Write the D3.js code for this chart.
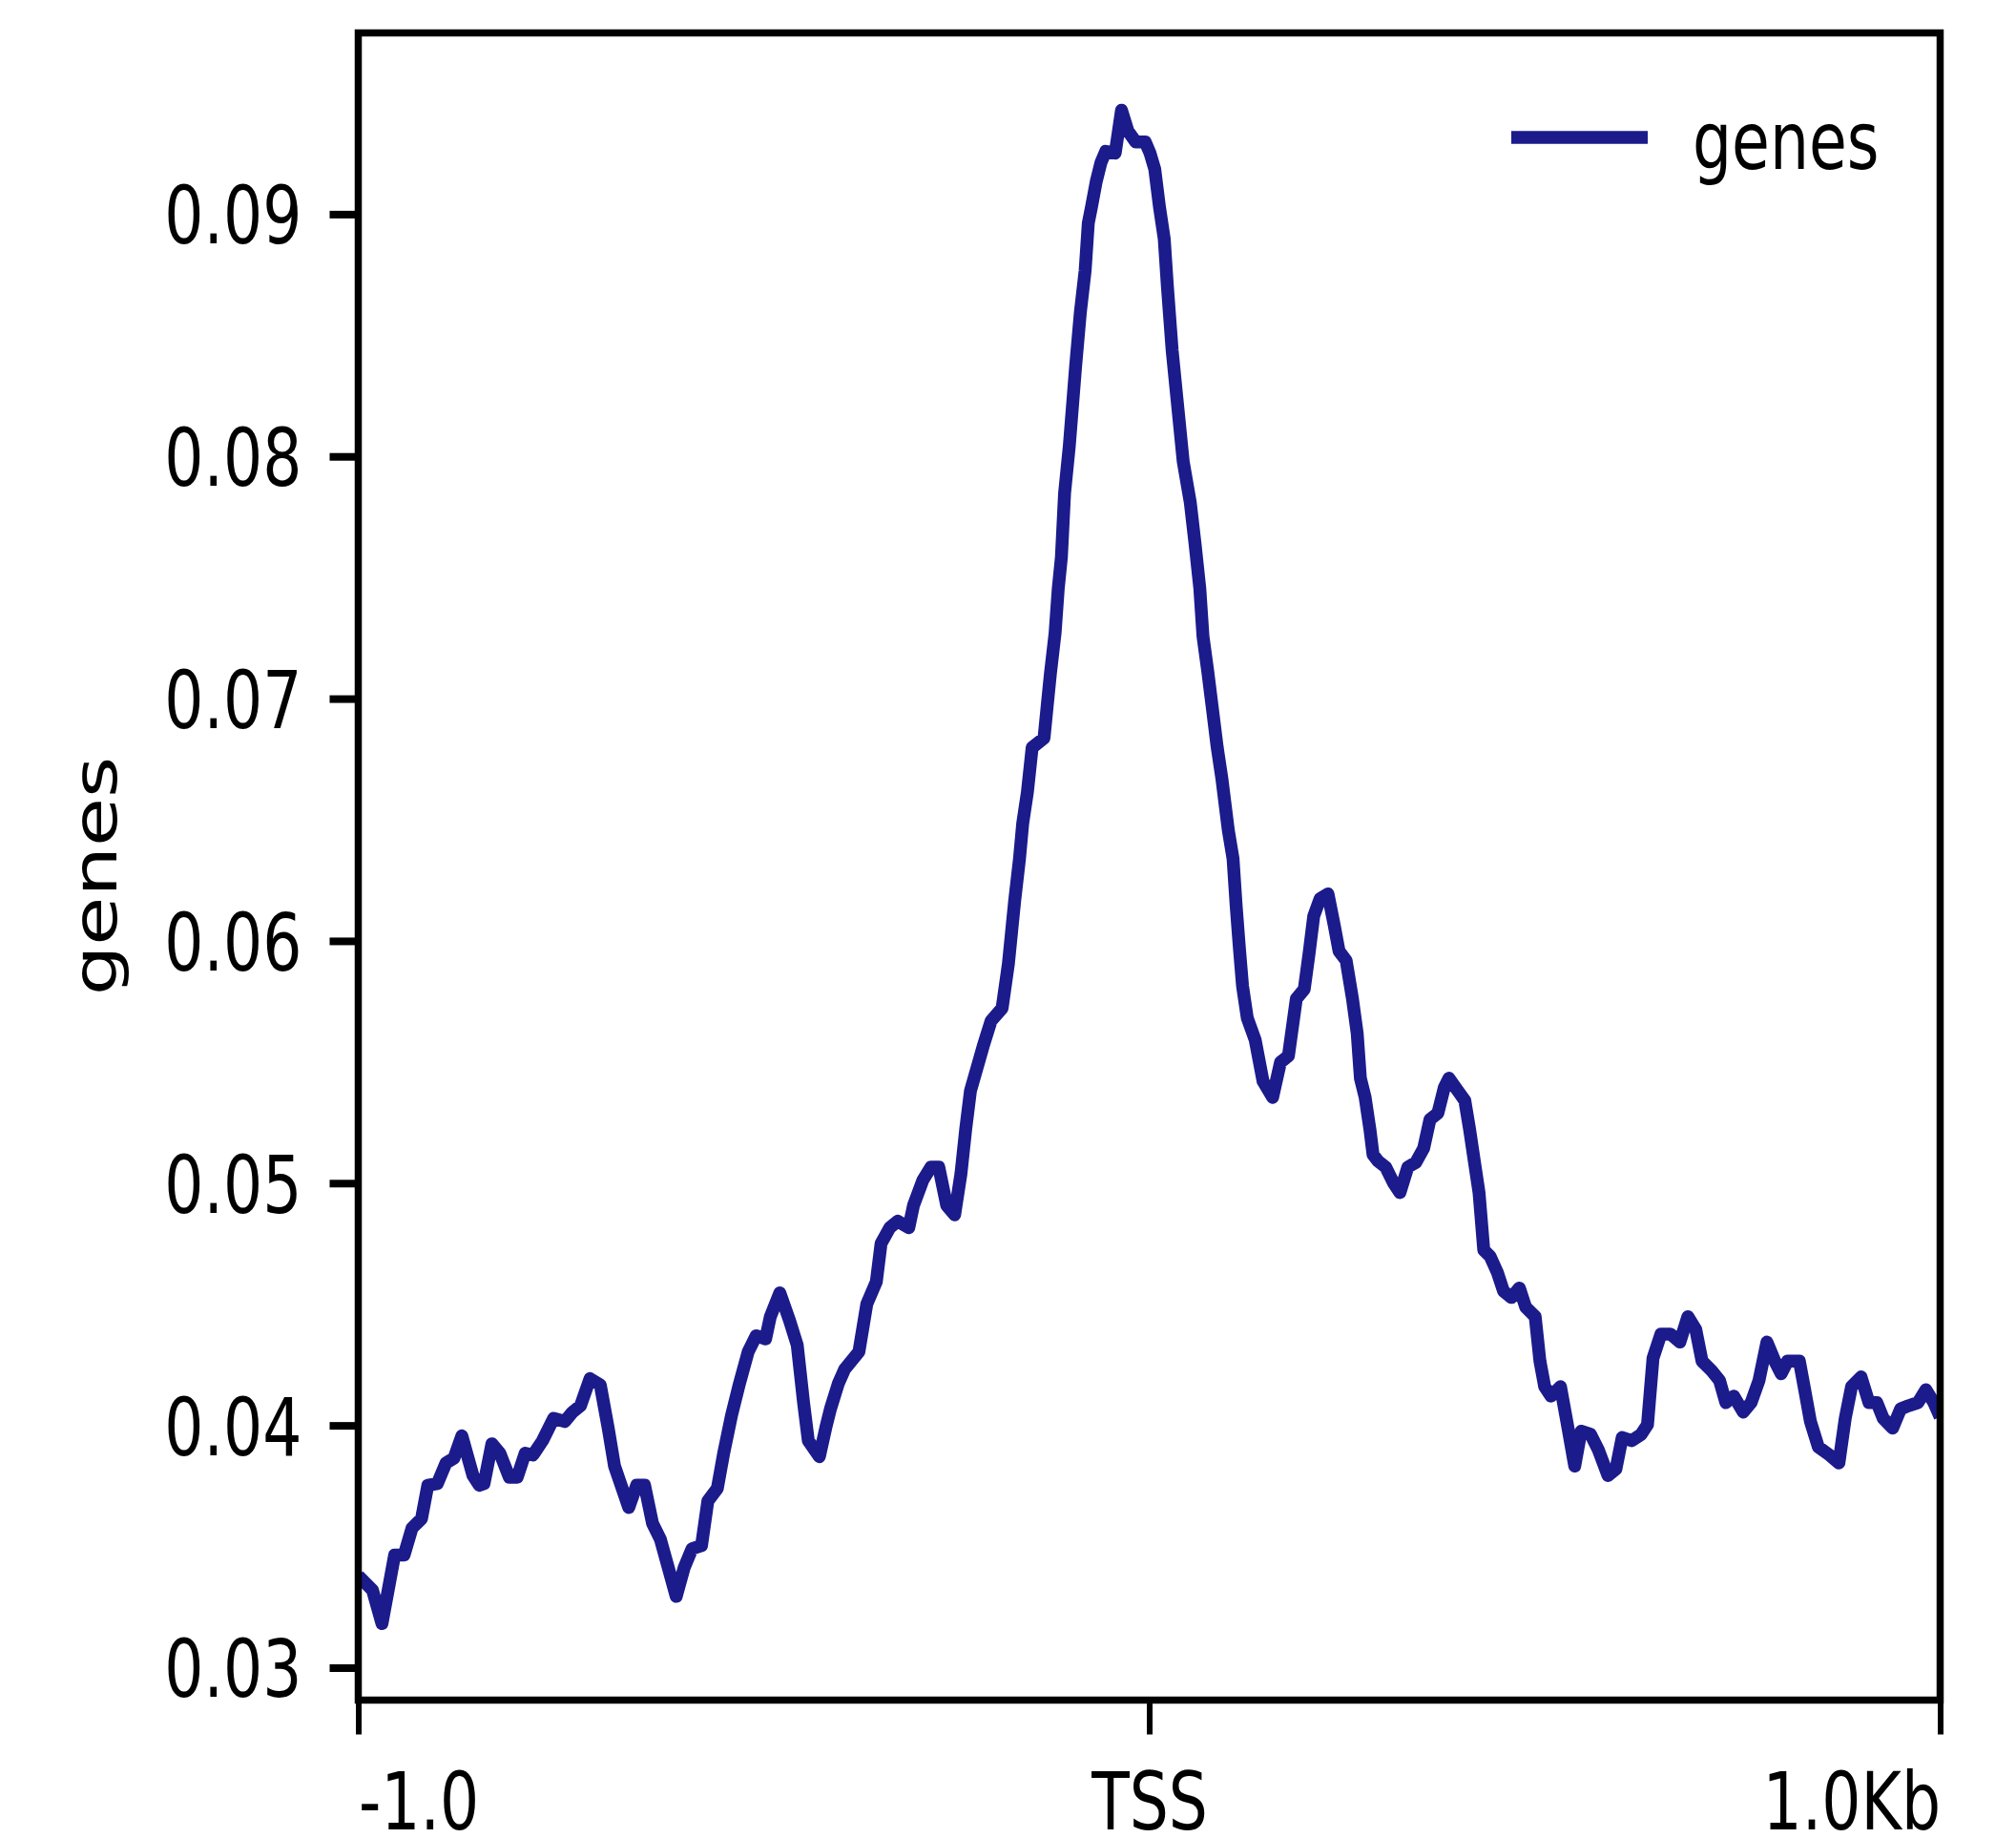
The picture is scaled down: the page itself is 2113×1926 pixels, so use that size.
<!DOCTYPE html>
<html>
<head>
<meta charset="utf-8">
<script src="https://cdn.jsdelivr.net/npm/d3@7"></script>
<style>
  body { margin: 0; background: #fff; }
  svg { display: block; }
  text { font-family: "DejaVu Sans", sans-serif; fill: #000; }
</style>
</head>
<body>
<script>
// Profile around the TSS: distance in bp and mean signal at each vertex
const binOffsets = [
  -1000, -982, -970, -954, -942, -932, -920, -912, -900, -889, -879, -869, -855, -847, -841, -831,
  -821, -809, -799, -789, -779, -767, -753, -739, -729, -719, -707, -694, -684, -676, -658, -648,
  -638, -628, -618, -608, -598, -588, -578, -566, -558, -546, -538, -528, -518, -507, -497, -485,
  -479, -467, -455, -445, -437, -431, -417, -409, -403, -393, -385, -367, -357, -345, -339, -328,
  -318, -304, -298, -286, -276, -266, -256, -246, -238, -232, -226, -218, -210, -200, -186, -178,
  -174, -170, -164, -160, -154, -148, -133, -129, -125, -119, -115, -111, -107, -101, -93, -87,
  -81, -77, -73, -67, -61, -55, -43, -35, -27, -17, -5, 1, 7, 13, 19, 23,
  29, 35, 43, 52, 58, 64, 68, 74, 80, 86, 92, 100, 106, 110, 114, 118,
  124, 134, 144, 156, 166, 176, 186, 196, 202, 208, 216, 226, 234, 240, 249, 257,
  263, 267, 273, 279, 283, 289, 299, 309, 317, 327, 337, 347, 355, 365, 373, 379,
  389, 399, 405, 411, 417, 423, 431, 440, 448, 458, 468, 476, 488, 494, 500, 508,
  520, 528, 538, 546, 558, 568, 580, 590, 598, 610, 622, 630, 637, 647, 659, 671,
  681, 691, 699, 711, 721, 729, 739, 751, 761, 771, 781, 791, 799, 807, 822, 828,
  836, 846, 860, 872, 880, 888, 900, 910, 920, 928, 940, 950, 960, 972, 982, 992,
  1000
];
const signal = [
  0.03379, 0.03320, 0.03182, 0.03465, 0.03465, 0.03576, 0.03615, 0.03753, 0.03760, 0.03845, 0.03865, 0.03957, 0.03793, 0.03753, 0.03760, 0.03924,
  0.03885, 0.03786, 0.03786, 0.03885, 0.03878, 0.03937, 0.04029, 0.04016, 0.04055, 0.04081, 0.04193, 0.04167, 0.03989, 0.03832, 0.03661, 0.03753,
  0.03753, 0.03596, 0.03530, 0.03412, 0.03294, 0.03412, 0.03491, 0.03504, 0.03688, 0.03740, 0.03885, 0.04042, 0.04173, 0.04304, 0.04370, 0.04357,
  0.04449, 0.04547, 0.04436, 0.04331, 0.04094, 0.03937, 0.03871, 0.03989, 0.04068, 0.04173, 0.04232, 0.04304, 0.04501, 0.04593, 0.04751, 0.04816,
  0.04843, 0.04816, 0.04908, 0.05013, 0.05066, 0.05066, 0.04908, 0.04869, 0.05039, 0.05223, 0.05381, 0.05472, 0.05564, 0.05669, 0.05722, 0.05906,
  0.06037, 0.06168, 0.06339, 0.06483, 0.06614, 0.06798, 0.06837, 0.06969, 0.07100, 0.07270, 0.07454, 0.07585, 0.07848, 0.08044, 0.08373, 0.08596,
  0.08767, 0.08963, 0.09029, 0.09134, 0.09213, 0.09259, 0.09252, 0.09429, 0.09344, 0.09298, 0.09298, 0.09252, 0.09186, 0.09029, 0.08898, 0.08701,
  0.08438, 0.08241, 0.07979, 0.07808, 0.07638, 0.07454, 0.07257, 0.07113, 0.06956, 0.06798, 0.06667, 0.06457, 0.06339, 0.06142, 0.05971, 0.05814,
  0.05682, 0.05591, 0.05420, 0.05354, 0.05499, 0.05525, 0.05761, 0.05800, 0.05945, 0.06102, 0.06174, 0.06194, 0.06063, 0.05958, 0.05919, 0.05761,
  0.05617, 0.05433, 0.05354, 0.05223, 0.05118, 0.05092, 0.05066, 0.05000, 0.04961, 0.05066, 0.05085, 0.05144, 0.05263, 0.05289, 0.05394, 0.05433,
  0.05387, 0.05341, 0.05223, 0.05092, 0.04961, 0.04724, 0.04698, 0.04633, 0.04554, 0.04528, 0.04567, 0.04488, 0.04449, 0.04265, 0.04160, 0.04121,
  0.04160, 0.04016, 0.03832, 0.03976, 0.03963, 0.03898, 0.03793, 0.03819, 0.03950, 0.03937, 0.03963, 0.04003, 0.04278, 0.04377, 0.04377, 0.04344,
  0.04449, 0.04396, 0.04265, 0.04226, 0.04186, 0.04094, 0.04121, 0.04055, 0.04094, 0.04186, 0.04344, 0.04265, 0.04213, 0.04265, 0.04265, 0.04160,
  0.04016, 0.03911, 0.03878, 0.03845, 0.04029, 0.04160, 0.04200, 0.04094, 0.04094, 0.04029, 0.03989, 0.04068, 0.04081, 0.04094, 0.04147, 0.04094,
  0.04035
];

const yTickValues = [0.03, 0.04, 0.05, 0.06, 0.07, 0.08, 0.09];
const xTickValues = [-1000, 0, 1000];
const xTickLabels = ["-1.0", "TSS", "1.0Kb"];
const seriesName = "genes";
const yTitle = "genes";

const W = 2113, H = 1926;
const plot = { left: 375.5, right: 2033.5, top: 34.5, bottom: 1781.5 };
const lineColor = "#1b1b8c";
const fontSize = 83;
const squeeze = 0.78;   // narrow glyph width used throughout the figure

const svg = d3.select("body").append("svg")
  .attr("width", W).attr("height", H)
  .attr("viewBox", `0 0 ${W} ${H}`);

svg.append("rect").attr("width", W).attr("height", H).attr("fill", "#fff");

const x = d3.scaleLinear().domain([-1000, 1000]).range([plot.left, plot.right]);
const y = d3.scaleLinear().domain([0.02866, 0.09748]).range([plot.bottom, plot.top]);

// clip the profile to the axes box
svg.append("defs").append("clipPath").attr("id", "plot-clip")
  .append("rect")
  .attr("x", plot.left).attr("y", plot.top)
  .attr("width", plot.right - plot.left).attr("height", plot.bottom - plot.top);

const points = binOffsets.map((d, i) => [d, signal[i]]);
const line = d3.line().x(d => x(d[0])).y(d => y(d[1]));

svg.append("path")
  .datum(points)
  .attr("clip-path", "url(#plot-clip)")
  .attr("d", line)
  .attr("fill", "none")
  .attr("stroke", lineColor)
  .attr("stroke-width", 13.5)
  .attr("stroke-linejoin", "round")
  .attr("stroke-linecap", "butt");

// y axis
const gy = svg.append("g")
  .attr("transform", `translate(${plot.left},0)`)
  .call(d3.axisLeft(y).tickValues(yTickValues).tickFormat(d3.format(".2f")).tickSize(30).tickPadding(0))
  .attr("font-family", null).attr("font-size", null);
gy.select(".domain").remove();
gy.selectAll(".tick line").attr("stroke", "#000").attr("stroke-width", 8);
gy.selectAll(".tick text")
  .attr("x", null).attr("dy", null)
  .attr("text-anchor", "end")
  .attr("font-size", fontSize)
  .attr("transform", `translate(-59,30.5) scale(${squeeze},1)`);

// x axis
const gx = svg.append("g")
  .attr("transform", `translate(0,${plot.bottom})`)
  .call(d3.axisBottom(x).tickValues(xTickValues)
    .tickFormat((d, i) => xTickLabels[i]).tickSize(36).tickPadding(0))
  .attr("font-family", null).attr("font-size", null);
gx.select(".domain").remove();
gx.selectAll(".tick line").attr("stroke", "#000").attr("stroke-width", 6);
gx.selectAll(".tick text")
  .attr("y", null).attr("dy", null)
  .attr("font-size", fontSize)
  .attr("text-anchor", (d, i) => i === 0 ? "start" : (i === xTickValues.length - 1 ? "end" : "middle"))
  .attr("transform", `translate(0,135) scale(${squeeze},1)`);

// axes frame
svg.append("rect")
  .attr("x", plot.left).attr("y", plot.top)
  .attr("width", plot.right - plot.left).attr("height", plot.bottom - plot.top)
  .attr("fill", "none").attr("stroke", "#000").attr("stroke-width", 7.5);

// y title
svg.append("text")
  .attr("transform", `translate(122,918) scale(${squeeze},1) rotate(-90)`)
  .attr("text-anchor", "middle")
  .attr("font-size", fontSize)
  .text(yTitle);

// legend
const legend = svg.append("g");
legend.append("line")
  .attr("x1", 1584).attr("x2", 1727).attr("y1", 144).attr("y2", 144)
  .attr("stroke", lineColor).attr("stroke-width", 13.5);
legend.append("text")
  .attr("transform", `translate(1774,177) scale(${squeeze},1)`)
  .attr("font-size", fontSize)
  .text(seriesName);
</script>
</body>
</html>
